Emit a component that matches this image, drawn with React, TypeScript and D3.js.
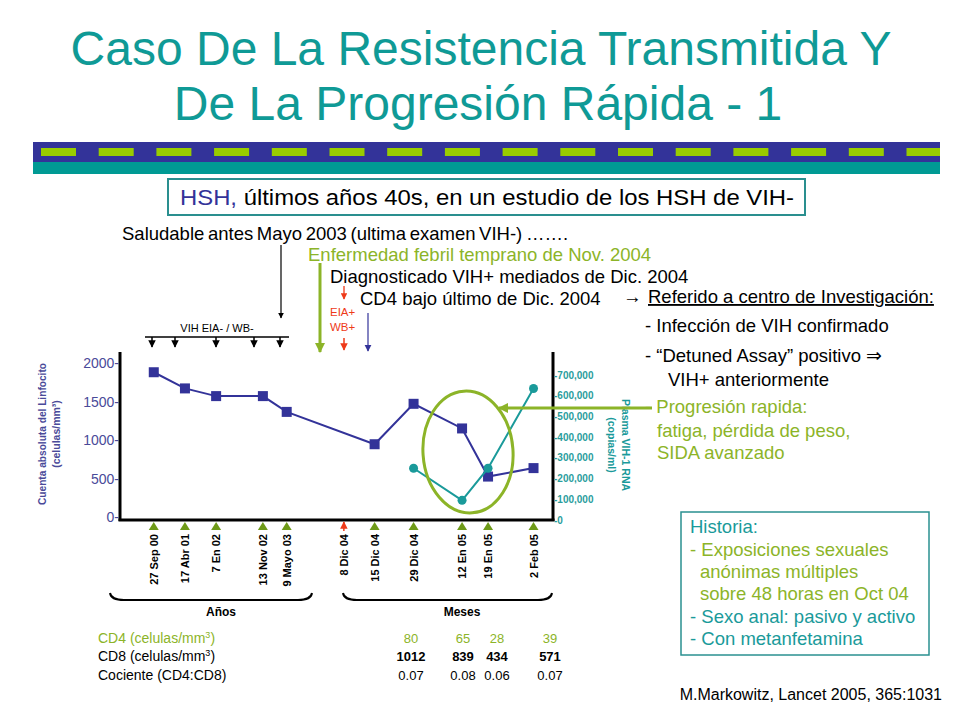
import React from "react";
import * as d3 from "d3";

const dateLabels = ["27 Sep 00", "17 Abr 01", "7 En 02", "13 Nov 02", "9 Mayo 03", "8 Dic 04", "15 Dic 04", "29 Dic 04", "12 En 05", "19 En 05", "2 Feb 05"];
const datePos = [7.8, 15.0, 22.2, 33.0, 38.5, 51.7, 58.8, 67.8, 79.0, 85.0, 95.5];
const tickColors = ["green", "green", "green", "green", "green", "red", "green", "green", "green", "green", "green"];
const lymphocytes: (number | null)[] = [1880, 1670, 1570, 1570, 1365, null, 945, 1470, 1150, 525, 635];
const viralLoad: (number | null)[] = [null, null, null, null, null, null, null, 250000, 95000, 250000, 635000];
const leftTicks = [0, 500, 1000, 1500, 2000];
const rightTicks = [0, 100000, 200000, 300000, 400000, 500000, 600000, 700000];
const tableCols = [411, 463, 497, 550];
const cd4Row = ["80", "65", "28", "39"];
const cd8Row = ["1012", "839", "434", "571"];
const ratioRow = ["0.07", "0.08", "0.06", "0.07"];
const negArrowPos = [152, 175, 216, 254, 280];

const NAVY = "#333399";
const TEAL = "#0f9a96";
const GREEN = "#8cb428";
const RED = "#ee3a1a";
const FONT = "Liberation Sans, Arial, sans-serif";

export default function App() {
  const x = d3.scaleLinear().domain([0, 100]).range([120, 553]);
  const yL = d3.scaleLinear().domain([0, 2000]).range([517, 363]);
  const yR = d3.scaleLinear().domain([0, 700000]).range([520, 375]);

  const lymphPts = dateLabels.map((d, i) => ({ i, v: lymphocytes[i] })).filter((p) => p.v !== null) as { i: number; v: number }[];
  const vlPts = dateLabels.map((d, i) => ({ i, v: viralLoad[i] })).filter((p) => p.v !== null) as { i: number; v: number }[];

  const lineL = d3.line<{ i: number; v: number }>().x((p) => x(datePos[p.i])).y((p) => yL(p.v));
  const lineR = d3.line<{ i: number; v: number }>().x((p) => x(datePos[p.i])).y((p) => yR(p.v));

  const brace = (x1: number, x2: number, y: number) =>
    `M${x1},${y - 7} Q${x1 + 1},${y} ${x1 + 14},${y} L${x2 - 14},${y} Q${x2 - 1},${y} ${x2},${y - 7}`;

  const fmt = d3.format(",");
  const BODY = 18.5;

  return (
    <svg width={960} height={720} style={{ position: "absolute", left: 0, top: 0, fontFamily: FONT }}>
      <defs>
        <marker id="ahBlack" viewBox="0 0 10 10" refX="9" refY="5" markerWidth="5" markerHeight="5" orient="auto">
          <path d="M0,0 L10,5 L0,10 z" fill="#000" />
        </marker>
        <marker id="ahGreen" viewBox="0 0 10 10" refX="9" refY="5" markerWidth="3.5" markerHeight="3.5" orient="auto">
          <path d="M0,0 L10,5 L0,10 z" fill={GREEN} />
        </marker>
        <marker id="ahRed" viewBox="0 0 10 10" refX="9" refY="5" markerWidth="5" markerHeight="5" orient="auto">
          <path d="M0,0 L10,5 L0,10 z" fill={RED} />
        </marker>
        <marker id="ahNavy" viewBox="0 0 10 10" refX="9" refY="5" markerWidth="6" markerHeight="6" orient="auto">
          <path d="M0,0 L10,5 L0,10 z" fill={NAVY} />
        </marker>
      </defs>
      <rect width={960} height={720} fill="#fff" />

      {/* Title */}
      <text x={481} y={65} textAnchor="middle" fontSize={48} fill={TEAL}>Caso De La Resistencia Transmitida Y</text>
      <text x={478} y={120} textAnchor="middle" fontSize={48} fill={TEAL}>De La Progresión Rápida - 1</text>

      {/* Banner */}
      <rect x={33} y={142} width={907} height={20} fill={NAVY} />
      <rect x={33} y={162} width={907} height={12} fill="#009a94" />
      {d3.range(16).map((k) => (
        <rect key={k} x={41 + k * 57.7} y={148} width={Math.min(35, 940 - (41 + k * 57.7))} height={8} fill="#99cc00" />
      ))}

      {/* Subtitle box */}
      <rect x={168} y={179} width={637} height={36} fill="#fff" stroke="#2a8f8f" strokeWidth={2} />
      <text x={180} y={205} fontSize={22} fill="#000" textLength={614} lengthAdjust="spacingAndGlyphs">
        <tspan fill={NAVY}>HSH,</tspan> últimos años 40s, en un estudio de los HSH de VIH-
      </text>

      {/* Narrative text */}
      <text x={122} y={240} fontSize={BODY} fill="#000" wordSpacing={-1.5}>Saludable antes Mayo 2003 (ultima examen VIH-) …….</text>
      <text x={308} y={261} fontSize={BODY} fill={GREEN}>Enfermedad febril temprano de Nov. 2004</text>
      <text x={330} y={283} fontSize={BODY} fill="#000">Diagnosticado VIH+ mediados de Dic. 2004</text>
      <text x={360} y={305} fontSize={BODY} fill="#000">CD4 bajo último de Dic. 2004</text>

      <text x={623} y={303} fontSize={BODY} fill="#000">→</text>
      <text x={648} y={303} fontSize={BODY} fill="#000" textDecoration="underline">Referido a centro de Investigación:</text>
      <text x={645} y={332} fontSize={BODY} fill="#000">- Infección de VIH confirmado</text>
      <text x={645} y={362} fontSize={BODY} fill="#000">- “Detuned Assay” positivo ⇒</text>
      <text x={668} y={386} fontSize={BODY} fill="#000">VIH+ anteriormente</text>
      <text x={645} y={413} fontSize={BODY} fill={GREEN}>- Progresión rapida:</text>
      <text x={657} y={437} fontSize={BODY} fill={GREEN}>fatiga, pérdida de peso,</text>
      <text x={657} y={459} fontSize={BODY} fill={GREEN}>SIDA avanzado</text>

      {/* Top annotation arrows */}
      <line x1={281} y1={245} x2={281} y2={318} stroke="#000" strokeWidth={1.2} markerEnd="url(#ahBlack)" />
      <text x={217} y={332} textAnchor="middle" fontSize={11} fill="#000">VIH EIA- / WB-</text>
      <line x1={145} y1={337} x2={289} y2={337} stroke="#000" strokeWidth={1.5} />
      {negArrowPos.map((p) => (
        <line key={p} x1={p} y1={337} x2={p} y2={347} stroke="#000" strokeWidth={1.5} markerEnd="url(#ahBlack)" />
      ))}
      <line x1={320} y1={263} x2={320} y2={352} stroke={GREEN} strokeWidth={3} markerEnd="url(#ahGreen)" />
      <line x1={344} y1={286} x2={344} y2={299} stroke={RED} strokeWidth={1.3} markerEnd="url(#ahRed)" />
      <text x={330} y={316} fontSize={11.5} fill={RED}>EIA+</text>
      <text x={330} y={331} fontSize={11.5} fill={RED}>WB+</text>
      <line x1={344} y1={338} x2={344} y2={350} stroke={RED} strokeWidth={1.5} markerEnd="url(#ahRed)" />
      <line x1={368} y1={313} x2={368} y2={351} stroke={NAVY} strokeWidth={1.2} markerEnd="url(#ahNavy)" />

      {/* Axes */}
      <line x1={120} y1={352} x2={120} y2={521} stroke="#000" strokeWidth={3} />
      <line x1={118.5} y1={520} x2={554.5} y2={520} stroke="#000" strokeWidth={3} />
      <line x1={553} y1={352} x2={553} y2={521} stroke="#000" strokeWidth={3} />

      {leftTicks.map((t) => (
        <text key={t} x={119} y={yL(t) + 5} textAnchor="end" fontSize={14} fill="#4a4a99">{t}-</text>
      ))}
      {rightTicks.map((t) => (
        <text key={t} x={554} y={yR(t) + 3.5} fontSize={10} fontWeight="bold" fill="#2a9d9d">-{fmt(t)}</text>
      ))}

      <g transform="translate(46,434) rotate(-90)">
        <text x={0} y={0} textAnchor="middle" fontSize={10.5} fontWeight="bold" fill="#4a4a99" textLength={142} lengthAdjust="spacingAndGlyphs">Cuenta absoluta del Linfocito</text>
        <text x={0} y={14} textAnchor="middle" fontSize={10.5} fontWeight="bold" fill="#4a4a99">(celulas/mm³)</text>
      </g>
      <g transform="translate(622,445) rotate(90)">
        <text x={0} y={0} textAnchor="middle" fontSize={10.5} fontWeight="bold" fill="#1a9a9a">Plasma VIH-1 RNA</text>
        <text x={0} y={14} textAnchor="middle" fontSize={10.5} fontWeight="bold" fill="#1a9a9a">(copias/ml)</text>
      </g>

      {/* Series */}
      <path d={lineL(lymphPts) || ""} fill="none" stroke={NAVY} strokeWidth={2} />
      {lymphPts.map((p) => (
        <rect key={p.i} x={x(datePos[p.i]) - 5} y={yL(p.v) - 5} width={10} height={10} fill={NAVY} />
      ))}
      <path d={lineR(vlPts) || ""} fill="none" stroke="#1a9a9a" strokeWidth={2} />
      {vlPts.map((p) => (
        <circle key={p.i} cx={x(datePos[p.i])} cy={yR(p.v)} r={4.5} fill="#1a9a9a" />
      ))}

      {/* Ellipse and arrow */}
      <ellipse cx={468} cy={452} rx={45} ry={61} fill="none" stroke={GREEN} strokeWidth={3} transform="rotate(-4 468 452)" />
      <line x1={652} y1={408} x2={499} y2={408} stroke={GREEN} strokeWidth={3} markerEnd="url(#ahGreen)" />

      {/* X ticks */}
      {dateLabels.map((d, i) => {
        const px = x(datePos[i]);
        return (
          <g key={d}>
            {tickColors[i] === "green" ? (
              <path d={`M${px - 5},530 L${px + 5},530 L${px},522 z`} fill="#6e9a18" />
            ) : (
              <line x1={px} y1={531} x2={px} y2={522} stroke={RED} strokeWidth={1.5} markerEnd="url(#ahRed)" />
            )}
            <text transform={`translate(${px + 4},534) rotate(-90)`} textAnchor="end" fontSize={11} fontWeight="bold" fill="#000">{d}</text>
          </g>
        );
      })}

      <path d={brace(110, 312, 600)} fill="none" stroke="#000" strokeWidth={2} />
      <path d={brace(343, 552, 600)} fill="none" stroke="#000" strokeWidth={2} />
      <text x={221} y={616} textAnchor="middle" fontSize={12} fontWeight="bold" fill="#000">Años</text>
      <text x={462} y={616} textAnchor="middle" fontSize={12} fontWeight="bold" fill="#000">Meses</text>

      {/* Table */}
      <text x={98} y={643} fontSize={14} fill={GREEN}>CD4 (celulas/mm<tspan dy={-5} fontSize={9}>3</tspan><tspan dy={5}>)</tspan></text>
      <text x={98} y={661} fontSize={14} fill="#000">CD8 (celulas/mm<tspan dy={-5} fontSize={9}>3</tspan><tspan dy={5}>)</tspan></text>
      <text x={98} y={680} fontSize={14} fill="#000">Cociente  (CD4:CD8)</text>
      {tableCols.map((c, k) => (
        <g key={c}>
          <text x={c} y={643} textAnchor="middle" fontSize={13} fill={GREEN}>{cd4Row[k]}</text>
          <text x={c} y={661} textAnchor="middle" fontSize={13} fontWeight="bold" fill="#000">{cd8Row[k]}</text>
          <text x={c} y={680} textAnchor="middle" fontSize={13} fill="#000">{ratioRow[k]}</text>
        </g>
      ))}

      {/* Historia box */}
      <rect x={681} y={512} width={248} height={143} fill="#fff" stroke="#2a9090" strokeWidth={1.5} />
      <text x={690} y={533} fontSize={BODY} fill="#1a9a9a">Historia:</text>
      <text x={690} y={556} fontSize={BODY} fill={GREEN}>- Exposiciones sexuales</text>
      <text x={700} y={578} fontSize={BODY} fill={GREEN}>anónimas múltiples</text>
      <text x={700} y={600} fontSize={BODY} fill={GREEN}>sobre 48 horas en Oct 04</text>
      <text x={690} y={623} fontSize={BODY} fill="#1a9a9a">- Sexo anal: pasivo y activo</text>
      <text x={690} y={645} fontSize={BODY} fill="#1a9a9a">- Con metanfetamina</text>

      <text x={942} y={700} textAnchor="end" fontSize={16} fill="#000">M.Markowitz,  Lancet 2005, 365:1031</text>
    </svg>
  );
}
